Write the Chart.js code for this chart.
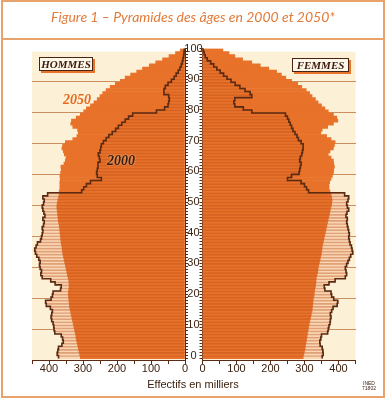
<!DOCTYPE html>
<html><head><meta charset="utf-8">
<script src="https://cdn.jsdelivr.net/npm/chart.js@4"></script>
<style>
html,body{margin:0;padding:0;background:#fff;}
#wrap{position:relative;width:386px;height:399px;overflow:hidden;font-family:"Liberation Sans",Arial,sans-serif;}
canvas{position:absolute;left:0;top:0;}
#frame{position:absolute;left:1px;top:0;width:384px;height:398px;border:2px solid #E8A26C;box-sizing:border-box;}
#divider{position:absolute;left:1px;top:38px;width:384px;height:1.5px;background:#E8A26C;}
#title{position:absolute;left:0;top:8px;width:386px;text-align:center;font:italic 14px Lato,"Open Sans",sans-serif;color:#E27A38;}
.sex{position:absolute;height:12px;border:1px solid #4a2412;background:#FFF7EA;box-shadow:2px 2px 0 #E8732A;font:italic bold 11px "Liberation Serif",serif;color:#3a1a0a;text-align:center;line-height:12px;}
.yr{position:absolute;font:italic bold 14px "Liberation Serif",serif;}
#xtitle{position:absolute;left:0;top:378px;width:386px;text-align:center;font:11px "Liberation Sans",Arial,sans-serif;color:#3C2210;}
#ined{position:absolute;left:360px;top:381px;width:18px;text-align:center;font:5px "Liberation Sans",sans-serif;line-height:5px;color:#3C2210;}
</style></head>
<body>
<div id="wrap">
  <canvas id="cL" width="386" height="399"></canvas>
  <canvas id="cR" width="386" height="399"></canvas>
  <div id="frame"></div>
  <div id="divider"></div>
  <div id="title">Figure 1 – Pyramides des âges en 2000 et 2050*</div>
  <div class="sex" style="left:39px;top:57px;width:52px;">HOMMES</div>
  <div class="sex" style="left:292px;top:58px;width:55px;">FEMMES</div>
  <div class="yr" style="left:63px;top:92px;color:#E8691E;">2050</div>
  <div class="yr" style="left:107px;top:153px;color:#3A1A08;text-shadow:0 0 2px #F6C9A0;">2000</div>
  <div id="xtitle">Effectifs en milliers</div>
  <div id="ined">INED<br>71802</div>
</div>
<script>
// ---- data (effectifs en milliers, par âge 0..100) ----
const ages = Array.from({length: 101}, (_, i) => i);
const ageLabels = [0, 10, 20, 30, 40, 50, 60, 70, 80, 90, 100];
const xTicks = [0, 50, 100, 150, 200, 250, 300, 350, 400, 450];
const xLabels = [0, 100, 200, 300, 400];

const hommes2000 = [
 372,376,374,372,362,358,360,364,383,385,
 386,388,392,394,392,390,396,408,410,394,
 390,388,366,364,382,395,420,424,422,426,
 428,426,430,436,440,442,438,434,425,422,
 420,418,420,416,414,418,412,415,418,420,
 416,414,418,404,304,298,290,278,246,258,
 260,258,256,256,250,252,255,250,248,246,
 240,232,224,214,204,196,186,176,166,154,
 84,60,50,48,46,48,62,62,58,50,
 40,32,26,20,15,11,8,6,4,3,
 2];
const hommes2050 = [
 308,310,312,314,316,318,320,321,323,325,
 327,329,331,333,335,337,339,340,341,342,
 343,343,342,341,341,342,344,346,348,350,
 352,354,356,358,360,361,362,364,365,366,
 367,368,369,370,372,373,374,375,376,377,
 376,374,372,370,370,368,368,368,367,368,
 366,364,365,356,352,350,355,358,362,360,
 352,330,318,314,316,330,336,334,320,308,
 298,290,278,268,258,250,242,232,220,205,
 190,176,160,142,125,105,86,66,47,28,
 14];
const femmes2000 = [
 352,355,354,352,346,345,348,350,368,370,
 372,375,376,378,376,380,384,396,398,386,
 380,378,360,358,372,390,420,424,422,420,
 424,428,432,436,442,440,438,434,432,430,
 432,430,428,426,424,426,422,425,430,426,
 424,428,430,418,312,306,300,290,250,262,
 284,286,288,290,286,288,292,294,296,296,
 290,282,278,272,266,262,258,254,250,244,
 145,120,95,92,95,145,140,125,110,96,
 84,72,62,52,42,33,24,14,8,5,
 2];
const femmes2050 = [
 296,298,300,302,303,305,306,308,309,311,
 312,314,316,318,320,322,323,324,325,326,
 328,329,330,332,333,334,335,337,339,340,
 342,344,346,348,350,351,352,354,356,358,
 360,362,364,366,368,370,372,374,376,378,
 380,381,380,378,375,372,372,374,378,382,
 385,386,388,386,385,378,370,375,385,388,
 390,378,365,348,352,368,385,398,395,385,
 370,360,350,340,332,322,315,305,292,280,
 262,245,232,218,195,170,145,118,95,78,
 60];

// ---- style ----
const COL = {
  cream: '#FCF0D6', grid: '#C98F60', peach: '#F9D6B4',
  orange: '#E8722A', stripe: 'rgba(185,75,20,0.38)', outline: '#5A2A12', text: '#3C2210'
};
const FONT = {family: '"Liberation Sans", Arial, sans-serif', size: 11};

const panelBg = {
  id: 'panelBg',
  beforeDraw(chart) {
    const {ctx, chartArea: a, scales: {y}} = chart;
    const top = y.getPixelForValue(99.5);
    ctx.save();
    ctx.fillStyle = COL.cream;
    ctx.fillRect(a.left, top, a.right - a.left, a.bottom - top);
    ctx.restore();
  }
};

function buildChart(id, side) {
  const isLeft = side === 'left';
  const d2000 = isLeft ? hommes2000 : femmes2000;
  const d2050 = isLeft ? hommes2050 : femmes2050;
  const pts = arr => ages.map((a, i) => ({x: arr[i], y: a}));
  const outline = ages.map((a, i) => ({x: d2000[i], y: a - 0.5}));
  outline.push({x: 0, y: ages[ages.length - 1] + 0.5});
  const barCommon = {type: 'bar', grouped: false, barPercentage: 1, categoryPercentage: 1, borderSkipped: false, xAxisID: 'x', yAxisID: 'y'};
  return new Chart(document.getElementById(id), {
    data: {
      datasets: [
        {type: 'line', label: '2000', data: outline, stepped: 'after', borderColor: COL.outline, borderWidth: 1.6,
         pointRadius: 0, fill: false, order: 0, xAxisID: 'x', yAxisID: 'y'},
        Object.assign({label: '2000 traits', data: pts(d2000), backgroundColor: 'rgba(0,0,0,0)', borderColor: COL.stripe,
         borderWidth: {top: 1, right: 0, bottom: 0, left: 0}, order: 1}, barCommon),
        Object.assign({label: '2050', data: pts(d2050), backgroundColor: COL.orange, borderWidth: 0, order: 2}, barCommon),
        Object.assign({label: '2000 fond', data: pts(d2000), backgroundColor: COL.peach, borderWidth: 0, order: 3}, barCommon)
      ]
    },
    options: {
      indexAxis: 'y',
      responsive: false,
      devicePixelRatio: 1,
      animation: false,
      events: [],
      layout: {padding: isLeft ? {left: 32, right: 183, top: 48.55, bottom: 16.9}
                               : {left: 202.5, right: 30.5, top: 48.55, bottom: 16.9}},
      plugins: {legend: {display: false}, tooltip: {enabled: false}},
      scales: {
        x: {
          type: 'linear', position: 'bottom', reverse: isLeft, min: 0, max: 450,
          afterBuildTicks: s => { s.ticks = xTicks.map(v => ({value: v})); },
          afterFit: s => { s.height = 22; },
          grid: {drawOnChartArea: false, tickLength: 4, tickColor: COL.outline},
          border: {display: true, color: COL.outline, width: 1},
          ticks: {autoSkip: false, maxRotation: 0, padding: -2, color: COL.text, font: FONT,
                  callback: v => xLabels.includes(v) ? String(v) : ''}
        },
        y: {
          type: 'linear', position: isLeft ? 'right' : 'left', min: -0.5, max: 100,
          afterBuildTicks: s => { s.ticks = ages.map(a => ({value: a})); },
          afterFit: s => { s.width = isLeft ? 18 : 0; },
          grid: {drawOnChartArea: false, tickLength: 3, tickColor: COL.outline, lineWidth: 1},
          border: {display: true, color: COL.outline, width: 1},
          ticks: {display: isLeft, autoSkip: false, padding: -3.7, crossAlign: 'center', labelOffset: -1.55,
                  color: COL.text, font: FONT,
                  callback: v => ageLabels.includes(v) ? String(v) : ''}
        },
        yg: {
          type: 'linear', position: isLeft ? 'left' : 'right', min: -0.5, max: 100,
          afterBuildTicks: s => { s.ticks = ageLabels.slice(1, -1).map(a => ({value: a - 0.5})); },
          afterFit: s => { s.width = 0; },
          grid: {color: COL.grid, drawTicks: false, lineWidth: 1},
          border: {display: false},
          ticks: {display: false}
        }
      }
    },
    plugins: [panelBg]
  });
}
buildChart('cL', 'left');
buildChart('cR', 'right');
</script>
</body></html>
